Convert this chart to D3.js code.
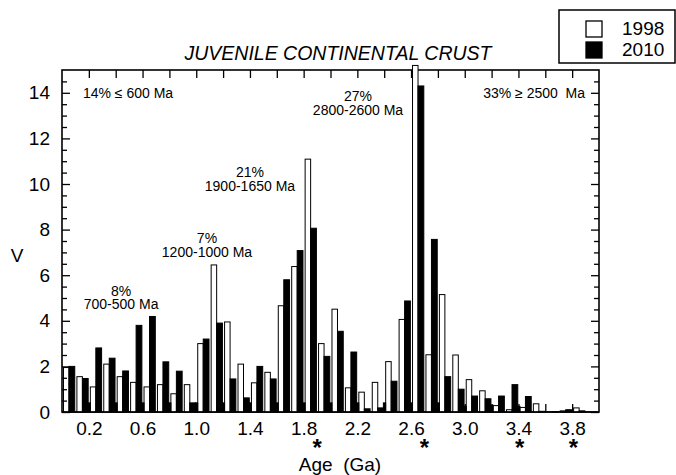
<!DOCTYPE html>
<html><head><meta charset="utf-8">
<script src="https://cdn.jsdelivr.net/npm/d3@7"></script>
<style>
body{margin:0;background:#fff}
svg{display:block}
text{font-family:"Liberation Sans",Arial,Helvetica,sans-serif;fill:#000}
</style>
</head><body>
<svg id="chart" width="676" height="475"></svg>
<script>
// ---- data ----
const binStart = [0.0,0.1,0.2,0.3,0.4,0.5,0.6,0.7,0.8,0.9,1.0,1.1,1.2,1.3,1.4,1.5,1.6,1.7,1.8,1.9,
                  2.0,2.1,2.2,2.3,2.4,2.5,2.6,2.7,2.8,2.9,3.0,3.1,3.2,3.3,3.4,3.5,3.6,3.7,3.8,3.9];
const v1998 = [1.95,1.55,1.1,2.1,1.55,1.3,1.1,1.2,0.8,1.2,3.0,6.45,3.95,2.1,1.28,1.74,4.66,6.38,11.09,3.0,
               4.51,1.06,0.87,1.3,2.21,4.06,15.2,2.51,5.15,2.5,1.42,0.93,0.28,0.1,0.2,0.36,0,0.05,0.18,0];
const v2010 = [2.0,1.47,2.81,2.36,1.8,3.8,4.19,2.2,1.79,0.4,3.2,3.9,1.45,0.62,2.0,1.45,5.8,7.08,8.06,2.44,
               3.54,2.63,0.14,0.18,1.35,4.87,14.3,7.57,1.55,1.0,0.7,0.58,0.7,1.2,0.68,0.03,0.02,0.1,0.05,0];
const v2010edge = [0,0.4,0,0.4,0,0.4,0,0.4,0,0.4,0,0.4,0,0.4,0,0.4,0,0.4,0,0.4,
                   0,0.4,0,0.4,0,0.4,0,0.4,0,0.25,0,0.3,0,0.25,0,0,0,0,0,0];
const seriesNames = ["1998","2010"];
const xTickVals = [0.2,0.4,0.6,0.8,1.0,1.2,1.4,1.6,1.8,2.0,2.2,2.4,2.6,2.8,3.0,3.2,3.4,3.6,3.8];
const xLabelVals = [0.2,0.6,1.0,1.4,1.8,2.2,2.6,3.0,3.4,3.8];
const yMajor = [0,2,4,6,8,10,12,14];
const yMinor = [0.5,1,1.5,2.5,3,3.5,4.5,5,5.5,6.5,7,7.5,8.5,9,9.5,10.5,11,11.5,12.5,13,13.5,14.5];
const starAges = [1.9,2.7,3.41,3.81];
const annoText  = ["14% \u2264 600 Ma","33% \u2265 2500  Ma","8%","700-500 Ma","7%","1200-1000 Ma","21%","1900-1650 Ma","27%","2800-2600 Ma"];
const annoAge   = [0.156,3.896,0.44,0.44,1.08,1.08,1.40,1.40,2.205,2.205];
const annoVal   = [13.77,13.77,5.09,4.50,7.41,6.80,10.31,9.70,13.64,13.03];
const annoAnchor= ["start","end","middle","middle","middle","middle","middle","middle","middle","middle"];
const titleText = "JUVENILE CONTINENTAL CRUST";
const xTitle = "Age  (Ga)";
const yTitle = "V";

// ---- layout ----
const L=62,R=599,T=70,B=412, BW=0.1;
const svg = d3.select("#chart");
const x = d3.scaleLinear().domain([0,4]).range([L,R]);
const y = d3.scaleLinear().domain([0,15]).range([B,T]);

// frame
svg.append("rect").attr("x",L).attr("y",T).attr("width",R-L).attr("height",B-T)
  .attr("fill","none").attr("stroke","#000").attr("stroke-width",1.6);

const bars = svg.append("g");
const rows = binStart.map((a,i)=>({a, w:v1998[i], b:v2010[i], e:v2010edge[i]}));
bars.selectAll("rect.w").data(rows.filter(d=>d.w>0)).join("rect").attr("class","w")
  .attr("x",d=>x(d.a+0.11*BW)).attr("width",d=>x(d.a+0.52*BW)-x(d.a+0.11*BW))
  .attr("y",d=>y(d.w)).attr("height",d=>y(0)-y(d.w))
  .attr("fill","#fff").attr("stroke","#000").attr("stroke-width",1);
bars.selectAll("rect.e").data(rows.filter(d=>d.e>0)).join("rect").attr("class","e")
  .attr("x",d=>x(d.a+0.94*BW)).attr("width",d=>x(d.a+1.11*BW)-x(d.a+0.94*BW))
  .attr("y",d=>y(d.e)).attr("height",d=>y(0)-y(d.e))
  .attr("fill","#000").attr("stroke","#000").attr("stroke-width",1);
bars.selectAll("rect.b").data(rows.filter(d=>d.b>0)).join("rect").attr("class","b")
  .attr("x",d=>x(d.a+0.52*BW)).attr("width",d=>x(d.a+0.95*BW)-x(d.a+0.52*BW))
  .attr("y",d=>y(d.b)).attr("height",d=>y(0)-y(d.b))
  .attr("fill","#000").attr("stroke","#000").attr("stroke-width",1);

// bottom line redraw
svg.append("line").attr("x1",L).attr("x2",R).attr("y1",B).attr("y2",B).attr("stroke","#000").attr("stroke-width",1.6);

function styleAxis(g){ g.select(".domain").remove(); g.selectAll("line").attr("stroke","#000").attr("stroke-width",1.3); }
const fs = "19px";
// left axis
svg.append("g").attr("transform",`translate(${L},0)`)
  .call(d3.axisLeft(y).tickValues(yMajor).tickSize(-8).tickPadding(12).tickFormat(d3.format("d")))
  .call(styleAxis).call(g=>g.selectAll("text").attr("font-size",fs).attr("font-family",null));
svg.append("g").attr("transform",`translate(${L},0)`)
  .call(d3.axisLeft(y).tickValues(yMinor).tickSize(-5).tickFormat(""))
  .call(styleAxis);
// right axis
svg.append("g").attr("transform",`translate(${R},0)`)
  .call(d3.axisRight(y).tickValues(yMajor).tickSize(-8).tickFormat(""))
  .call(styleAxis);
svg.append("g").attr("transform",`translate(${R},0)`)
  .call(d3.axisRight(y).tickValues(yMinor).tickSize(-5).tickFormat(""))
  .call(styleAxis);
// top axis
svg.append("g").attr("transform",`translate(0,${T})`)
  .call(d3.axisTop(x).tickValues(xTickVals).tickSize(-8).tickFormat(""))
  .call(styleAxis);
// bottom axis
svg.append("g").attr("transform",`translate(0,${B})`)
  .call(d3.axisBottom(x).tickValues(xTickVals).tickSize(-8).tickFormat(""))
  .call(styleAxis);
svg.append("g").attr("transform",`translate(0,${B})`)
  .call(d3.axisBottom(x).tickValues(xLabelVals).tickSize(0).tickPadding(9.5).tickFormat(d3.format(".1f")))
  .call(g=>g.select(".domain").remove())
  .call(g=>g.selectAll("text").attr("font-size",fs).attr("font-family",null));

// asterisks
svg.append("g").selectAll("text").data(starAges).join("text")
  .attr("x",d=>x(d)).attr("y",456).attr("text-anchor","middle")
  .attr("font-size","24px").attr("font-weight","bold").text("*");

// titles
svg.append("text").attr("x",338).attr("y",60).attr("text-anchor","middle")
  .attr("font-size","19.5px").attr("font-style","italic").text(titleText);
svg.append("text").attr("x",340).attr("y",471).attr("text-anchor","middle")
  .attr("font-size",fs).style("white-space","pre").text(xTitle);
svg.append("text").attr("x",17).attr("y",262).attr("text-anchor","middle")
  .attr("font-size",fs).text(yTitle);

// annotations
svg.append("g").selectAll("text").data(annoText).join("text")
  .attr("x",(d,i)=>x(annoAge[i])).attr("y",(d,i)=>y(annoVal[i]))
  .attr("text-anchor",(d,i)=>annoAnchor[i]).attr("font-size","14px")
  .style("white-space","pre").text(d=>d);

// legend
const lg = svg.append("g");
lg.append("rect").attr("x",559).attr("y",10).attr("width",116).attr("height",53)
  .attr("fill","#fff").attr("stroke","#000").attr("stroke-width",1.5);
const legFill = ["#fff","#000"];
seriesNames.forEach((s,i)=>{
  lg.append("rect").attr("x",586).attr("y",21+i*21).attr("width",16).attr("height",16)
    .attr("fill",legFill[i]).attr("stroke","#000").attr("stroke-width",1.3);
  lg.append("text").attr("x",622).attr("y",35+i*21).attr("font-size",fs).text(s);
});
</script>
</body></html>
